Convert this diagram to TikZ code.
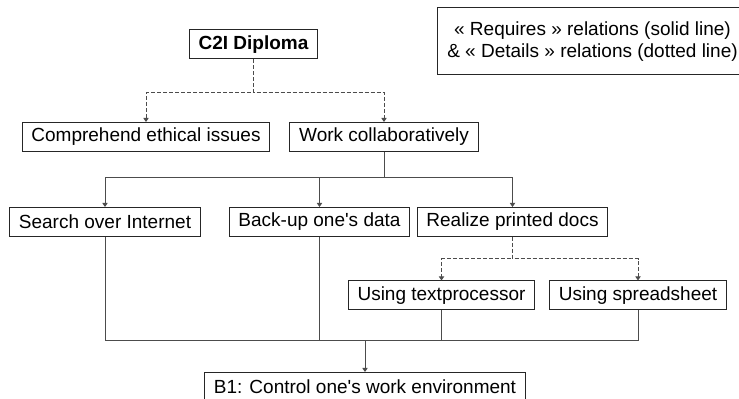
\documentclass[tikz,border=0pt]{standalone}
\usepackage{fontspec}
\setmainfont{Liberation Sans}
\usetikzlibrary{arrows.meta}

\tikzset{
  skill/.style={draw=black!85, line width=0.5pt, fill=white, minimum height=14.5pt,
    inner xsep=4.7pt, inner ysep=2pt, font=\fontsize{9.5}{11}\selectfont},
  requires/.style={draw=black!70, line width=0.5pt},
  details/.style={draw=black!70, line width=0.5pt, dash pattern=on 2pt off 1pt},
  tip/.style={-{Triangle[length=2pt,width=2.6pt]}}
}

\begin{document}
\begin{tikzpicture}[x=0.5pt, y=-0.5pt]
        \useasboundingbox (0,0) rectangle (739,399);
        \clip (0,0) rectangle (739,399);
        \fill[white] (0,0) rectangle (739,399);

        \node[skill, font=\fontsize{9.5}{11}\selectfont\bfseries] (dipl) at (253.5, 44.5) {C2I Diploma};
        \node[skill] (ethic) at (146, 137) {Comprehend ethical issues};
        \node[skill] (collab) at (384, 137) {Work collaboratively};
        \node[skill] (search) at (105, 222) {Search over Internet};
        \node[skill] (backup) at (319.5, 222) {Back-up one\textquotesingle s data};
        \node[skill] (print) at (512.5, 222) {Realize printed docs};
        \node[skill] (textp) at (441.5, 295.5) {Using textprocessor};
        \node[skill] (sheet) at (638, 295.5) {Using spreadsheet};
        \node[skill] (envt) at (365, 387) {B1: Control one\textquotesingle s work environment};
        \node[skill, align=center, minimum width=153pt, minimum height=33.5pt] (legend) at (592.5, 41.5)
          {« Requires » relations (solid line)\\ \& « Details » relations (dotted line)};

        \coordinate (merge) at (365, 341);

        \draw[details, tip] (dipl.south) -- ++(0,33) -| (ethic.north);
        \draw[details, tip] (dipl.south) -- ++(0,33) -| (collab.north);
        \draw[requires, tip] (collab.south) -- ++(0,26) -| (search.north);
        \draw[requires, tip] (collab.south) -- ++(0,26) -| (backup.north);
        \draw[requires, tip] (collab.south) -- ++(0,26) -| (print.north);
        \draw[details, tip] (print.south) -- ++(0,22) -| (textp.north);
        \draw[details, tip] (print.south) -- ++(0,22) -| (sheet.north);

        \draw[requires] (search.south) |- (merge);
        \draw[requires] (backup.south) |- (merge);
        \draw[requires] (textp.south) |- (merge);
        \draw[requires] (sheet.south) |- (merge);
        \draw[requires, tip] (merge) -- (envt.north);
      \end{tikzpicture}
\end{document}
